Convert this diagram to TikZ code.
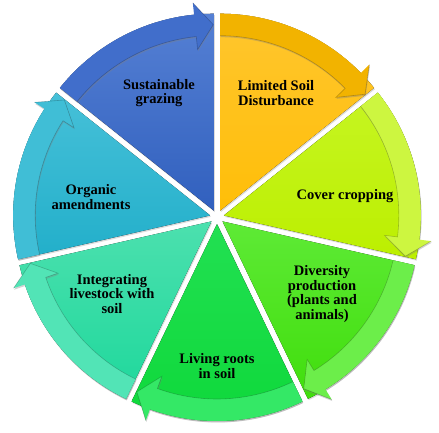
\documentclass[tikz,border=0pt]{standalone}
\usepackage{fontspec}
\setmainfont{Liberation Serif}
\usetikzlibrary{shadows}
\definecolor{sgT}{HTML}{5580D4}\definecolor{sgB}{HTML}{3160BE}\definecolor{sgA}{HTML}{416ECB}
\definecolor{lsT}{HTML}{FFC62E}\definecolor{lsB}{HTML}{FFBE08}\definecolor{lsA}{HTML}{F2B300}
\definecolor{ccT}{HTML}{C6F522}\definecolor{ccB}{HTML}{BCEF00}\definecolor{ccA}{HTML}{CDF640}
\definecolor{dpT}{HTML}{5EEA36}\definecolor{dpB}{HTML}{40DE0C}\definecolor{dpA}{HTML}{6CEE4A}
\definecolor{lrT}{HTML}{22E052}\definecolor{lrB}{HTML}{0ED83A}\definecolor{lrA}{HTML}{34E866}
\definecolor{ilT}{HTML}{4CE0AE}\definecolor{ilB}{HTML}{1ED89C}\definecolor{ilA}{HTML}{52E4B6}
\definecolor{oaT}{HTML}{46C0D8}\definecolor{oaB}{HTML}{22AFCA}\definecolor{oaA}{HTML}{40BED6}
\tikzset{
  wedgeshadow/.style={drop shadow={opacity=0.28, shadow xshift=0.8pt, shadow yshift=-1.4pt}},
  bandshadow/.style={drop shadow={opacity=0.35, shadow xshift=0.6pt, shadow yshift=-1.5pt}},
  bandedge/.style={draw=black, draw opacity=0.22, line width=0.6pt, line join=miter},
  lbl/.style={align=center, font=\bfseries\fontsize{14.5}{14.8}\selectfont, text=black, inner sep=0pt}
}
\newcommand{\Rad}{197}
\newcommand{\wedgeseg}[3]{%
  \pgfmathsetmacro{\sa}{90-#1*360/7}%
  \pgfmathsetmacro{\ea}{\sa-360/7}%
  \pgfmathsetmacro{\ma}{\sa-180/7}%
  \begin{scope}[shift={(\ma:7pt)}]
    \fill[top color=#2, bottom color=#3, wedgeshadow] (0pt,0pt) -- (\sa:\Rad pt)
      arc[start angle=\sa, end angle=\ea, radius=\Rad pt] -- cycle;
  \end{scope}}
\newcommand{\bandseg}[2]{%
  \pgfmathsetmacro{\sa}{90-#1*360/7}%
  \pgfmathsetmacro{\ea}{\sa-360/7}%
  \pgfmathsetmacro{\ma}{\sa-180/7}%
  \pgfmathsetmacro{\hb}{\ea+5.8}%
  \pgfmathsetmacro{\tp}{\ea+0.2}%
  \pgfmathsetmacro{\Ri}{\Rad-22}%
  \pgfmathsetmacro{\Rm}{\Rad-11}%
  \pgfmathsetmacro{\Ro}{\Rad+12}%
  \pgfmathsetmacro{\Rb}{\Rad-35}%
  \begin{scope}[shift={(\ma:7pt)}]
    \fill[#2, bandshadow] (\sa:\Rad pt) arc[start angle=\sa, end angle=\hb, radius=\Rad pt]
      -- (\hb:\Ro pt) -- (\tp:\Rm pt) -- (\hb:\Rb pt) -- (\hb:\Ri pt)
      arc[start angle=\hb, end angle=\sa, radius=\Ri pt] -- cycle;
    \draw[bandedge] (\sa:\Ri pt) arc[start angle=\sa, end angle=\hb, radius=\Ri pt]
      -- (\hb:\Rb pt) -- (\tp:\Rm pt) -- (\hb:\Ro pt);
  \end{scope}}
\begin{document}
\begin{tikzpicture}[x=1pt,y=1pt]
\useasboundingbox (-217,-215) rectangle (222,217);
\wedgeseg{0}{lsT}{lsB}
\wedgeseg{1}{ccT}{ccB}
\wedgeseg{2}{dpT}{dpB}
\wedgeseg{3}{lrT}{lrB}
\wedgeseg{4}{ilT}{ilB}
\wedgeseg{5}{oaT}{oaB}
\wedgeseg{6}{sgT}{sgB}
\bandseg{0}{lsA}
\bandseg{1}{ccA}
\bandseg{2}{dpA}
\bandseg{3}{lrA}
\bandseg{4}{ilA}
\bandseg{5}{oaA}
\bandseg{6}{sgA}
\node[lbl] (sg) at (-58,124) {Sustainable\\grazing};
\node[lbl] (ls) at (59,124) {Limited Soil\\Disturbance};
\node[lbl] (cc) at (128,21) {Cover cropping};
\node[lbl] (dp) at (105,-77) {Diversity\\production\\(plants and\\animals)};
\node[lbl] (lr) at (0,-149) {Living roots\\in soil};
\node[lbl] (il) at (-105,-77) {Integrating\\livestock with\\soil};
\node[lbl] (oa) at (-126,20) {Organic\\amendments};
\end{tikzpicture}
\end{document}
